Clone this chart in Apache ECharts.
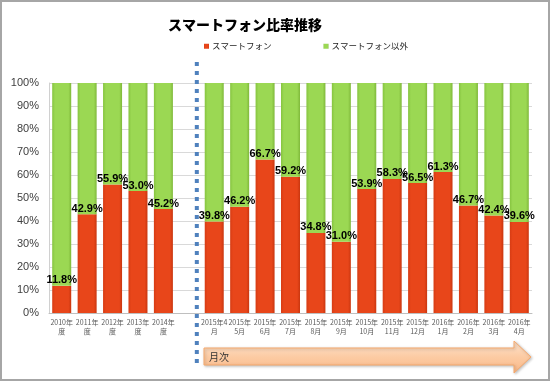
<!DOCTYPE html>
<html><head><meta charset="utf-8">
<script src="https://cdn.jsdelivr.net/npm/echarts@6/dist/echarts.min.js"></script>
<style>html,body{margin:0;padding:0;background:#fff}#c{width:550px;height:381px}</style>
</head><body><div id="c"></div>
<script>
const categories = ['2010年\n度','2011年\n度','2012年\n度','2013年\n度','2014年\n度','',
  '2015年4\n月','2015年\n5月','2015年\n6月','2015年\n7月','2015年\n8月','2015年\n9月','2015年\n10月','2015年\n11月','2015年\n12月','2016年\n1月','2016年\n2月','2016年\n3月','2016年\n4月'];
const smartphone = [11.8, 42.9, 55.9, 53.0, 45.2, null, 39.8, 46.2, 66.7, 59.2, 34.8, 31.0, 53.9, 58.3, 56.5, 61.3, 46.7, 42.4, 39.6];
const other = [88.2, 57.1, 44.1, 47.0, 54.8, null, 60.2, 53.8, 33.3, 40.8, 65.2, 69.0, 46.1, 41.7, 43.5, 38.7, 53.3, 57.6, 60.4];
const yTicks = [0, 10, 20, 30, 40, 50, 60, 70, 80, 90, 100];
const seriesNames = ['スマートフォン', 'スマートフォン以外'];

const chart = echarts.init(document.getElementById('c'));
const font = '"Noto Sans CJK JP", "Noto Sans", sans-serif';
chart.setOption({
  animation: false,
  textStyle: { fontFamily: font },
  title: {
    text: 'スマートフォン比率推移', left: 240, textAlign: 'center', top: 13,
    textStyle: { fontSize: 14, fontWeight: 900, color: '#000', fontFamily: font }
  },
  legend: {
    data: seriesNames, top: 37, left: 199, itemGap: 52,
    itemWidth: 5, itemHeight: 5, icon: 'rect',
    textStyle: { fontSize: 8.5, color: '#222', padding: [0, 0, 0, -2] }
  },
  grid: { left: 49, right: 18, top: 83, bottom: 68 },
  xAxis: {
    type: 'category', data: categories,
    axisTick: { show: false },
    axisLine: { lineStyle: { color: '#bfbfbf', width: 1 } },
    axisLabel: { interval: 0, fontSize: 7, lineHeight: 9, color: '#595959', margin: 5 }
  },
  yAxis: {
    type: 'value', min: yTicks[0], max: yTicks[yTicks.length - 1], interval: 10,
    axisLine: { show: true, lineStyle: { color: '#d0d0d0' } },
    axisTick: { show: false },
    splitLine: { lineStyle: { color: '#d9d9d9' } },
    axisLabel: { formatter: '{value}%', fontSize: 11, color: '#404040', margin: 10, fontFamily: '"Liberation Sans", Arial, sans-serif' }
  },
  series: [
    {
      name: seriesNames[0], type: 'bar', stack: 's', data: smartphone, barWidth: 19,
      itemStyle: {
        color: { type: 'linear', x: 0, y: 0, x2: 1, y2: 0, colorStops: [
          { offset: 0, color: '#d63c14' }, { offset: 0.15, color: '#e8461a' }, { offset: 0.85, color: '#e8461a' }, { offset: 1, color: '#c9360f' }] }
      },
      label: {
        show: true, position: 'top', distance: 0, formatter: (p) => p.value.toFixed(1) + '%',
        fontSize: 11, fontWeight: 'bold', color: '#000', fontFamily: '"Liberation Sans", Arial, sans-serif'
      }
    },
    {
      name: seriesNames[1], type: 'bar', stack: 's', data: other, barWidth: 19,
      itemStyle: {
        color: { type: 'linear', x: 0, y: 0, x2: 1, y2: 0, colorStops: [
          { offset: 0, color: '#86c440' }, { offset: 0.15, color: '#9bd853' }, { offset: 0.85, color: '#9bd853' }, { offset: 1, color: '#7fb83a' }] }
      }
    }
  ]
});

const gapX = chart.convertToPixel({ xAxisIndex: 0 }, 5) + 8;
chart.setOption({
  graphic: [
    { type: 'rect', z: 100, shape: { x: 1, y: 1, width: 548, height: 379 }, style: { fill: 'none', stroke: '#a6a6a6', lineWidth: 2 } },
    { type: 'line', z: 90, shape: { x1: gapX, y1: 62, x2: gapX, y2: 366 }, style: { stroke: '#4f81bd', lineWidth: 4, lineDash: [4, 5] } },
    { type: 'polygon', z: 90,
      shape: { points: [[204, 348], [514, 348], [514, 341], [531, 357], [514, 373], [514, 365], [204, 365]] },
      style: {
        fill: { type: 'linear', x: 0, y: 0, x2: 0, y2: 1, colorStops: [{ offset: 0, color: '#fde4cf' }, { offset: 0.5, color: '#fccba3' }, { offset: 1, color: '#fbb888' }] },
        stroke: '#f6a96d', lineWidth: 1, shadowBlur: 3, shadowColor: 'rgba(0,0,0,0.25)', shadowOffsetX: 1, shadowOffsetY: 1
      } },
    { type: 'text', z: 95, x: 209, y: 357, style: { text: '月次', fontSize: 10, fill: '#333', verticalAlign: 'middle', fontFamily: font } }
  ]
});
</script>
</body></html>
